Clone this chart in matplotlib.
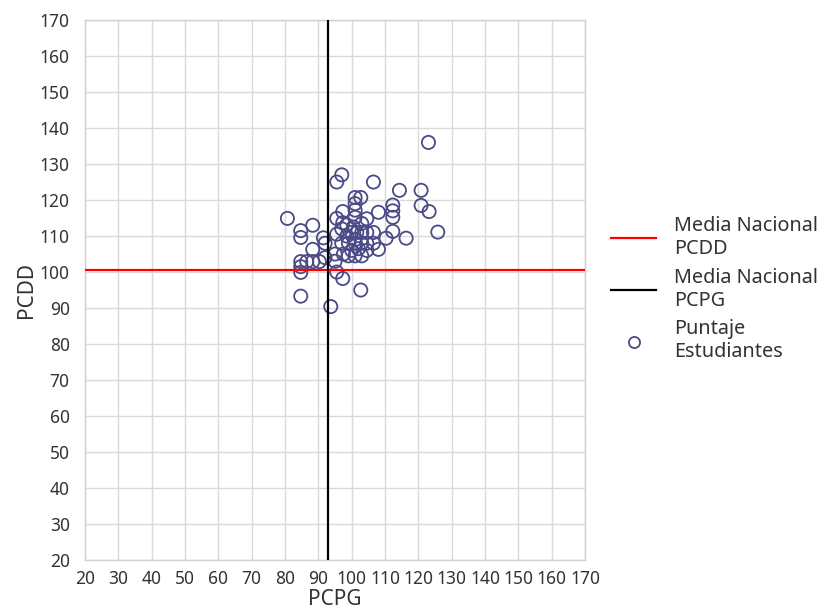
import matplotlib
matplotlib.use("Agg")
import matplotlib.pyplot as plt
from matplotlib.lines import Line2D

plt.rcParams['font.family'] = ['Noto Sans', 'DejaVu Sans']

pcpg = [123, 97, 95.5, 106.5, 114.3, 120.8, 120.8, 123.2, 112.3, 112.3, 112.3, 108, 104.5,
        101, 102.7, 101, 101, 97.3, 95.5, 101, 80.7, 84.7, 88.3, 97.3, 98.5, 125.8, 112.3,
        84.7, 91.5, 92, 88.3, 84.7, 84.7, 84.7, 86.5, 88.3, 90.3, 92, 95.5, 97.3, 84.7,
        102.7, 93.7, 116.3, 110.3, 108, 104.5, 106.5,
        95.5, 97, 98.5, 100, 101.5, 103, 104.5, 106.5, 99, 101, 103, 100, 102, 104.5,
        99, 101, 103, 97.5, 95, 95, 100.5, 103, 97, 101]
pcdd = [136, 127, 125, 125, 122.7, 122.7, 118.5, 116.8, 118.6, 117, 115.2, 116.6, 114.8,
        120.7, 120.7, 119, 117.2, 116.8, 114.9, 115.2, 114.9, 111.5, 113, 113.7, 113.1, 111.1, 111.3,
        109.6, 109.5, 108, 106.3, 102.9, 101.5, 99.9, 102.9, 102.9, 102.9, 104, 100, 98.2, 93.3,
        95, 90.4, 109.4, 109.4, 106.3, 108, 108,
        110.5, 108, 110, 111, 111, 111, 111, 111, 108, 108, 108, 106, 106.5, 106,
        104.5, 104.5, 104.5, 105, 105, 103, 112.5, 113.5, 112, 109]

media_pcdd = 100.6
media_pcpg = 92.8
ticks = list(range(20, 171, 10))

fig = plt.figure(figsize=(8.35, 6.15), dpi=100)
ax = fig.add_axes([0.1018, 0.0894, 0.599, 0.878])

ax.set_xlim(20, 170)
ax.set_ylim(20, 170)
ax.set_xticks(ticks)
ax.set_yticks(ticks)
ax.grid(True, color='#d9d9d9', linewidth=1.0)
ax.set_axisbelow(True)
for s in ax.spines.values():
    s.set_color('#d0d0d0')
    s.set_linewidth(1.0)
ax.tick_params(axis='both', length=0, labelsize=12.5, colors='#333333')
ax.tick_params(axis='x', pad=7)
ax.tick_params(axis='y', pad=11)

ax.scatter(pcpg, pcdd, s=90, facecolors='none', edgecolors='#4b4a87', linewidths=1.3, zorder=3)
ax.axhline(media_pcdd, color='#ff0000', linewidth=1.6, zorder=4)
ax.axvline(media_pcpg, color='#000000', linewidth=1.6, zorder=4)

ax.set_xlabel('PCPG', fontsize=15, color='#333333', labelpad=1)
ax.set_ylabel('PCDD', fontsize=15, color='#333333', labelpad=2)

handles = [Line2D([], [], color='#ff0000', linewidth=1.6),
           Line2D([], [], color='#000000', linewidth=1.6),
           Line2D([], [], linestyle='none', marker='o', markersize=8,
                  markerfacecolor='none', markeredgecolor='#4b4a87', markeredgewidth=1.3)]
labels = ['Media Nacional\nPCDD', 'Media Nacional\nPCPG', 'Puntaje\nEstudiantes']
fig.legend(handles, labels, loc='center left', bbox_to_anchor=(0.71, 0.53), frameon=False,
           fontsize=14.3, labelcolor='#333333', handlelength=2.3, handletextpad=0.9,
           labelspacing=0.45)

fig.savefig('out.png', dpi=100)
